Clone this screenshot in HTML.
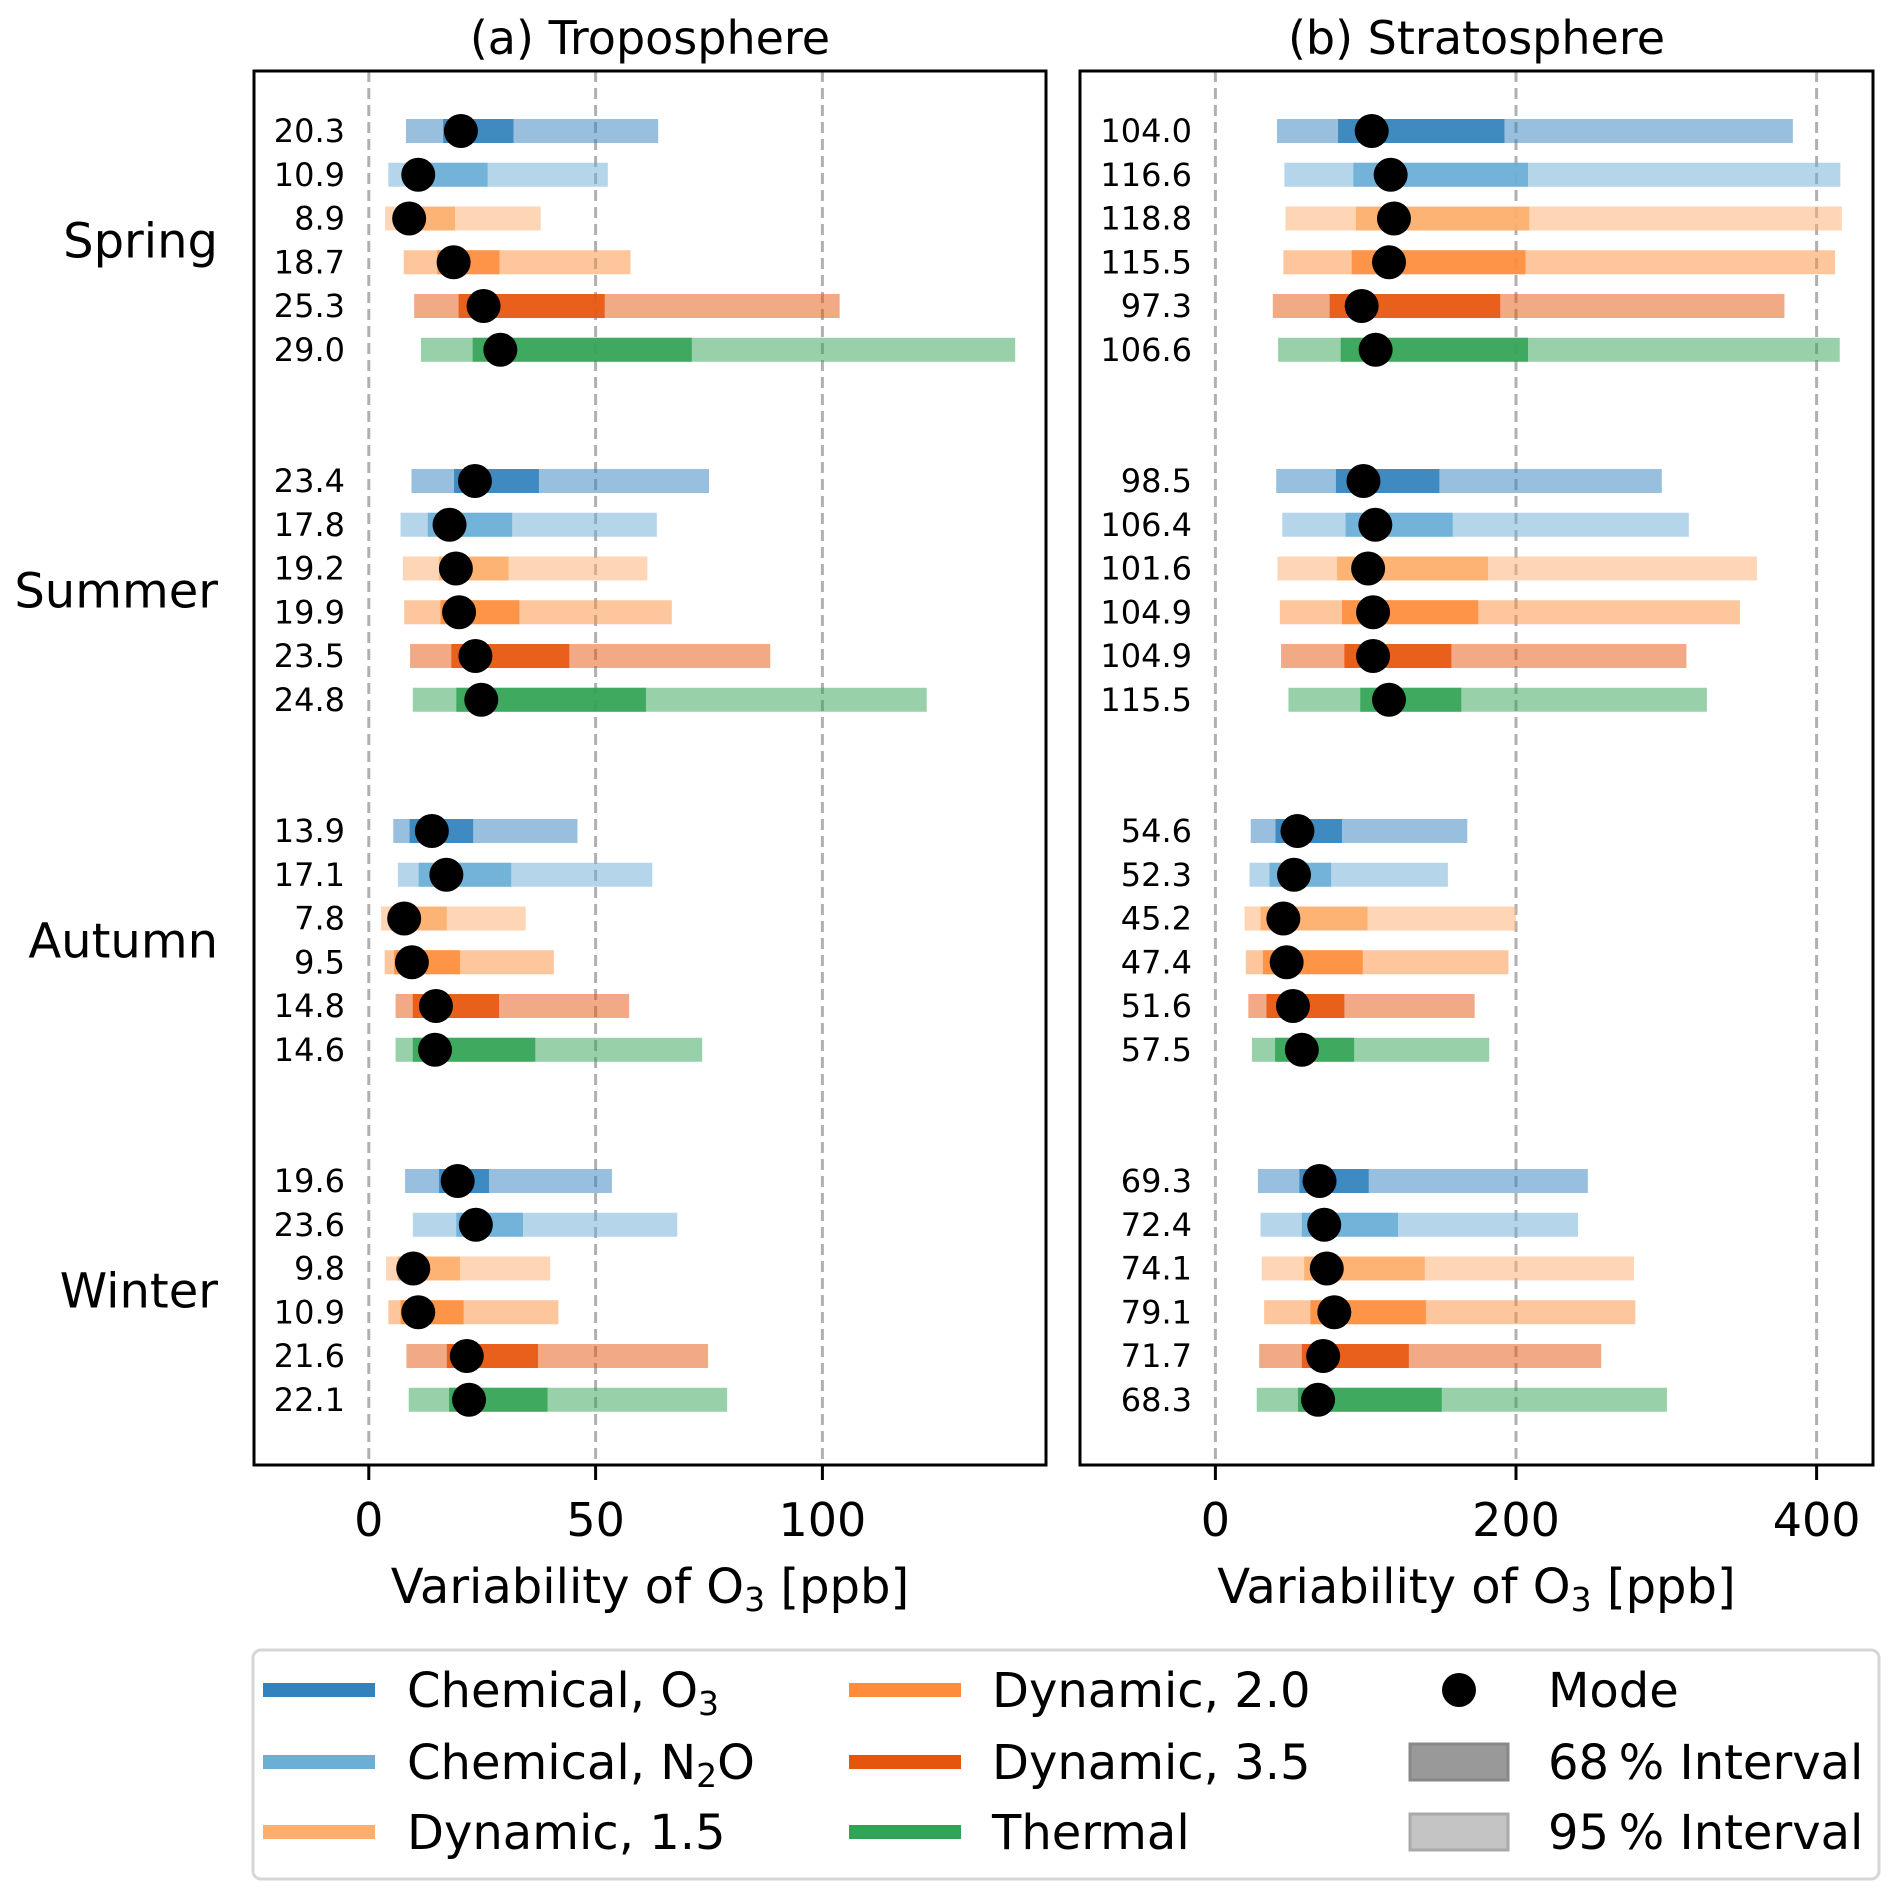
<!DOCTYPE html>
<html><head><meta charset="utf-8">
<style>
html,body{margin:0;padding:0;background:#fff;}
svg{display:block;font-family:"DejaVu Sans","Liberation Sans",sans-serif;}
</style></head>
<body>
<svg id="chart" width="1892" height="1900" viewBox="0 0 1892 1900" xmlns="http://www.w3.org/2000/svg"></svg>
<script>
// ---- data ----
const seasons = ["Spring","Summer","Autumn","Winter"];
const seriesNames = ["Chemical, O3","Chemical, N2O","Dynamic, 1.5","Dynamic, 2.0","Dynamic, 3.5","Thermal"];
// troposphere: per season, per series
const tropMode = [[20.3,10.9,8.9,18.7,25.3,29.0],[23.4,17.8,19.2,19.9,23.5,24.8],[13.9,17.1,7.8,9.5,14.8,14.6],[19.6,23.6,9.8,10.9,21.6,22.1]];
const tropLo95 = [[8.2,4.3,3.6,7.7,10.0,11.5],[9.4,7.0,7.5,7.8,9.1,9.7],[5.4,6.4,2.7,3.5,5.9,5.9],[8.0,9.7,3.8,4.3,8.3,8.8]];
const tropLo68 = [[16.4,8.7,6.0,15.1,19.8,22.9],[18.8,13.0,15.5,15.8,18.2,19.3],[9.0,11.0,4.8,5.6,9.7,9.7],[15.5,19.3,6.4,7.0,17.2,17.7]];
const tropHi68 = [[31.9,26.2,19.0,28.8,52.0,71.2],[37.5,31.6,30.8,33.2,44.2,61.1],[23.0,31.4,17.2,20.1,28.7,36.7],[26.5,34.0,20.1,20.9,37.3,39.4]];
const tropHi95 = [[63.8,52.7,37.9,57.7,103.8,142.5],[75.0,63.5,61.4,66.8,88.5,123.0],[46.0,62.5,34.6,40.8,57.4,73.5],[53.6,68.0,40.0,41.8,74.8,79.0]];
// stratosphere
const stratMode = [[104.0,116.6,118.8,115.5,97.3,106.6],[98.5,106.4,101.6,104.9,104.9,115.5],[54.6,52.3,45.2,47.4,51.6,57.5],[69.3,72.4,74.1,79.1,71.7,68.3]];
const stratLo95 = [[41.0,45.9,46.6,45.2,38.2,41.7],[40.5,44.5,41.3,42.9,43.7,48.6],[23.5,22.7,19.4,20.2,21.9,24.3],[28.3,30.0,30.8,32.4,29.1,27.5]];
const stratLo68 = [[81.6,91.8,93.5,90.7,76.0,83.4],[80.2,86.6,81.0,84.2,85.8,96.4],[40.0,36.0,30.0,31.6,34.0,39.7],[55.9,57.5,59.1,63.2,57.5,55.0]];
const stratHi68 = [[192.3,208.0,208.8,206.3,189.5,208.0],[149.0,157.9,181.4,174.9,157.0,163.6],[84.2,77.0,101.2,98.0,85.8,92.3],[102.0,121.5,139.3,140.0,128.7,150.6]];
const stratHi95 = [[384.2,415.8,416.8,412.3,378.6,415.4],[297.0,315.0,360.3,349.0,313.4,327.0],[167.6,154.7,200.0,195.0,172.5,182.2],[247.8,241.3,278.5,279.4,256.7,300.4]];
const tropTicks = [0,50,100];
const stratTicks = [0,200,400];

const colors = ["#3182bd","#6baed6","#fdae6b","#fd8d3c","#e6550d","#31a354"];
const NS = "http://www.w3.org/2000/svg";
const svg = document.getElementById("chart");
function el(tag, attrs, parent){
  const e = document.createElementNS(NS, tag);
  for (const k in attrs) e.setAttribute(k, attrs[k]);
  (parent||svg).appendChild(e);
  return e;
}
const rowY = i => 131 + i*43.75;
const barH = 24;

function panel(cfg){
  const g = el("g", {});
  
  
  const xs = v => cfg.x0 + v*cfg.k;
  cfg.ticks.forEach(t => {
    const l = el("line",{x1:xs(t),x2:xs(t),y1:cfg.top,y2:cfg.bottom,stroke:"#b0b0b0","stroke-width":3,"stroke-dasharray":"11,6"},g);
    
    
  });
  for (let s=0;s<4;s++){
    for (let j=0;j<6;j++){
      const y = rowY(s*8+j);
      const b95 = el("rect",{x:xs(cfg.lo95[s][j]),y:y-barH/2,width:xs(cfg.hi95[s][j])-xs(cfg.lo95[s][j]),height:barH,fill:colors[j],"fill-opacity":0.5},g);
      
      
      const b68 = el("rect",{x:xs(cfg.lo68[s][j]),y:y-barH/2,width:xs(cfg.hi68[s][j])-xs(cfg.lo68[s][j]),height:barH,fill:colors[j],"fill-opacity":0.88},g);
      
      
      const c = el("circle",{cx:xs(cfg.mode[s][j]),cy:y,r:17,fill:"#000"},g);
      
      
      const t = el("text",{x:cfg.labelX,y:y+11,"text-anchor":"end","font-size":32,fill:"#000"},g);
      t.textContent = cfg.mode[s][j].toFixed(1);
      
      
    }
  }
  const fr = el("rect",{x:cfg.left,y:cfg.top,width:cfg.right-cfg.left,height:cfg.bottom-cfg.top,fill:"none",stroke:"#000","stroke-width":3},g);
  
  
  cfg.ticks.forEach(t => {
    const tk = el("line",{x1:xs(t),x2:xs(t),y1:cfg.bottom,y2:cfg.bottom+15,stroke:"#000","stroke-width":3},g);
    
    
    const tl = el("text",{x:xs(t),y:1536,"text-anchor":"middle","font-size":46,fill:"#000"},g);
    tl.textContent = t;
    
    
  });
  const title = el("text",{x:(cfg.left+cfg.right)/2,y:54,"text-anchor":"middle","font-size":46,fill:"#000"},g);
  title.textContent = cfg.title;
  
  
  const xl = el("text",{x:(cfg.left+cfg.right)/2,y:1603,"text-anchor":"middle","font-size":48,fill:"#000"},g);
  xl.innerHTML = 'Variability of O<tspan font-size="33" dy="8">3</tspan><tspan dy="-8"> [ppb]</tspan>';
  
  
}

panel({name:"troposphere-panel",title:"(a) Troposphere",left:254,right:1046,top:71,bottom:1465,x0:368.8,k:4.536,labelX:345,ticks:tropTicks,mode:tropMode,lo95:tropLo95,lo68:tropLo68,hi68:tropHi68,hi95:tropHi95});
panel({name:"stratosphere-panel",title:"(b) Stratosphere",left:1080,right:1873,top:71,bottom:1465,x0:1215.4,k:1.503,labelX:1192,ticks:stratTicks,mode:stratMode,lo95:stratLo95,lo68:stratLo68,hi68:stratHi68,hi95:stratHi95});

seasons.forEach((s,i) => {
  const t = el("text",{x:218,y:rowY(i*8+2.5)+17,"text-anchor":"end","font-size":48,fill:"#000"});
  t.textContent = s;
  
  
});

const lg = el("g",{});


const lbox = el("rect",{x:253,y:1650,width:1626,height:229,rx:8,fill:"#fff",stroke:"#d6d6d6","stroke-width":3},lg);


const legRowY = [1690,1762,1832];
const legLabels = ['Chemical, O<tspan font-size="33" dy="8">3</tspan>','Chemical, N<tspan font-size="33" dy="8">2</tspan><tspan dy="-8">O</tspan>','Dynamic, 1.5','Dynamic, 2.0','Dynamic, 3.5','Thermal'];
for (let i=0;i<6;i++){
  const col = Math.floor(i/3), row = i%3;
  const hx = col===0?263:849, tx = col===0?407:992;
  const h = el("rect",{x:hx,y:legRowY[row]-7,width:112,height:14,fill:colors[i]},lg);
  
  
  const t = el("text",{x:tx,y:legRowY[row]+17,"font-size":48,fill:"#000"},lg);
  t.innerHTML = legLabels[i];
  
  
}
const mk = el("circle",{cx:1459,cy:legRowY[0],r:17,fill:"#000"},lg);


const s68 = el("rect",{x:1410,y:legRowY[1]-18,width:98,height:36,fill:"#999",stroke:"#888","stroke-width":3},lg);


const s95 = el("rect",{x:1410,y:legRowY[2]-18,width:98,height:36,fill:"#c4c4c4",stroke:"#aaa","stroke-width":3},lg);


["Mode","68\u2009% Interval","95\u2009% Interval"].forEach((s,i)=>{
  const t = el("text",{x:1548,y:legRowY[i]+17,"font-size":48,fill:"#000"},lg);
  t.textContent = s;
  
  
});
</script>
</body></html>
